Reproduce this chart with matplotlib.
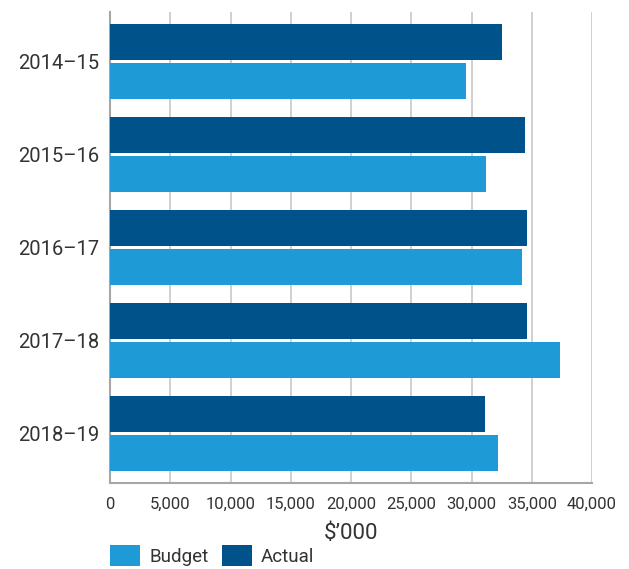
import matplotlib.pyplot as plt
import numpy as np
from matplotlib.patches import Patch

BUDGET = "#1E9AD6"
ACTUAL = "#00538A"
GRID = "#C8C8C8"
SPINE = "#A6A6A6"
TEXT = "#333333"

years = ["2014–15", "2015–16", "2016–17", "2017–18", "2018–19"]
budget = [29550, 31200, 34200, 37350, 32200]
actual = [32550, 34450, 34620, 34620, 31150]
x_ticks = [0, 5000, 10000, 15000, 20000, 25000, 30000, 35000, 40000]

plt.rcParams.update({"font.family": ["Roboto", "DejaVu Sans"], "text.color": TEXT})

fig = plt.figure(figsize=(6.29, 5.69), dpi=100)
ax = fig.add_axes([110 / 629, 86 / 569, 482 / 629, 471 / 569])

# Actual above Budget within each year
y = np.arange(len(years))
bar_h = 0.387
offset = 0.2097
ax.barh(y - offset, actual, height=bar_h, color=ACTUAL, zorder=3)
ax.barh(y + offset, budget, height=bar_h, color=BUDGET, zorder=3)

ax.set_xlim(0, 40000)
ax.set_ylim(len(years) - 1 + 0.532, -0.532)
ax.set_xticks(x_ticks, [f"{v:,}" for v in x_ticks], fontsize=12, color=TEXT)
ax.set_yticks(y, years, fontsize=14.5, color=TEXT)
ax.tick_params(axis="x", length=0, pad=10)
ax.tick_params(axis="y", length=0, pad=8)

ax.grid(True, axis="x", color=GRID, linewidth=1.2)
ax.set_axisbelow(True)
for side in ("top", "right"):
    ax.spines[side].set_visible(False)
for side in ("left", "bottom"):
    ax.spines[side].set_color(SPINE)
    ax.spines[side].set_linewidth(1.5)

ax.set_xlabel("$’000", fontsize=16, color=TEXT, labelpad=8)

handles = [Patch(facecolor=BUDGET, label="Budget"), Patch(facecolor=ACTUAL, label="Actual")]
fig.legend(
    handles=handles,
    loc="upper left",
    bbox_to_anchor=(110 / 629, 24 / 569),
    ncol=2,
    frameon=False,
    prop={"size": 13.5},
    handlelength=1.6,
    handleheight=1.35,
    handletextpad=0.5,
    columnspacing=0.7,
    borderpad=0,
    borderaxespad=0,
)

fig.savefig("out.png", dpi=100)
